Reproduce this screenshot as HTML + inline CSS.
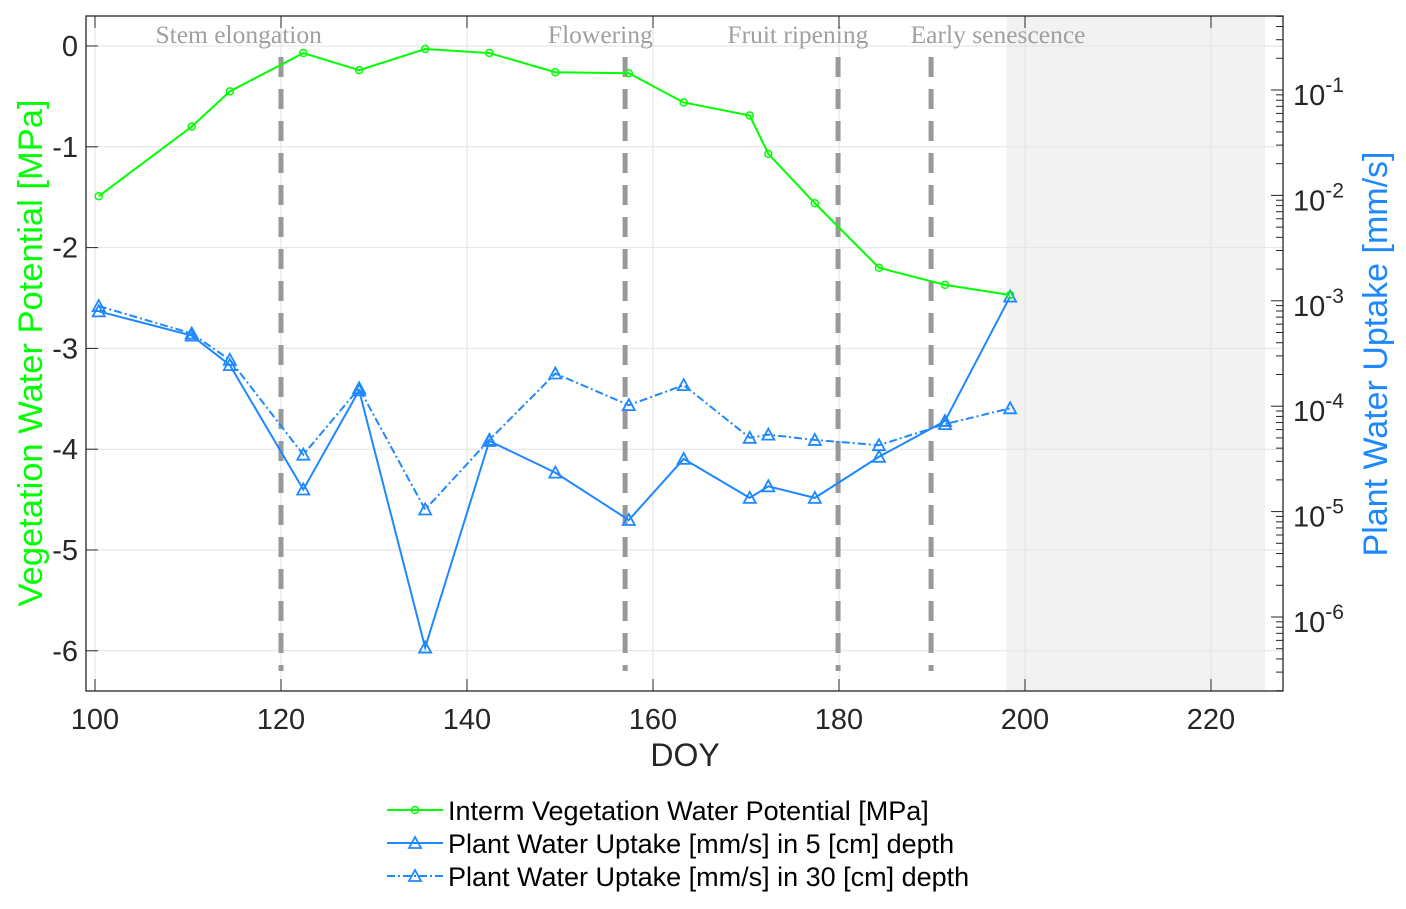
<!DOCTYPE html>
<html><head><meta charset="utf-8"><style>
body{margin:0;background:#fff;}
svg text{font-family:"Liberation Sans",sans-serif;}
</style></head><body>
<svg id="chart" width="1406" height="904" xmlns="http://www.w3.org/2000/svg">
<g id="g"></g>
</svg>
<script>
const doy=[100.4,110.4,114.5,122.4,128.4,135.5,142.4,149.5,157.4,163.3,170.4,172.4,177.4,184.3,191.4,198.4];
const potential=[-1.49,-0.80,-0.45,-0.07,-0.24,-0.03,-0.07,-0.26,-0.27,-0.56,-0.69,-1.07,-1.56,-2.20,-2.37,-2.47];
const uptake5log=[-3.10,-3.33,-3.61,-4.79,-3.85,-6.29,-4.33,-4.63,-5.08,-4.50,-4.87,-4.76,-4.87,-4.48,-4.14,-2.96];
const uptake30log=[-3.05,-3.31,-3.56,-4.46,-3.83,-4.98,-4.32,-3.69,-3.99,-3.80,-4.30,-4.27,-4.32,-4.37,-4.17,-4.02];
const xTicks=[100,120,140,160,180,200,220];
const yTicks=[0,-1,-2,-3,-4,-5,-6];
const rTicks=[-1,-2,-3,-4,-5,-6];
const phaseDoy=[120,157,179.9,189.9];
const phaseLabels=["Stem elongation","Flowering","Fruit ripening","Early senescence"];
const phaseLabelDoy=[106.5,148.7,168.0,187.7];

const L=86,R=1283,T=16,B=691;
const xs=d=>95+(d-100)*9.3;
const ys=v=>46-v*100.8;
const yr=l=>90-(l+1)*105.4;
const NS="http://www.w3.org/2000/svg";
const g=document.getElementById('g');
function el(tag,attrs,parent){const e=document.createElementNS(NS,tag);for(const k in attrs)e.setAttribute(k,attrs[k]);(parent||g).appendChild(e);return e;}

let sh=el('rect',{x:xs(198),y:T,width:xs(225.8)-xs(198),height:B-T,fill:'#f2f2f2'});


xTicks.forEach(t=>{let l=el('line',{x1:xs(t),x2:xs(t),y1:T,y2:B,stroke:'#e3e3e3','stroke-width':1});

});
yTicks.forEach(t=>{let l=el('line',{x1:L,x2:R,y1:ys(t),y2:ys(t),stroke:'#e3e3e3','stroke-width':1});

});
phaseDoy.forEach(d=>{let l=el('line',{x1:xs(d),x2:xs(d),y1:57,y2:671,stroke:'#999','stroke-width':5,'stroke-dasharray':'20 12'});

});
phaseLabels.forEach((s,i)=>{let t=el('text',{x:xs(phaseLabelDoy[i]),y:43,fill:'#a0a0a0','font-size':25.5});
t.style.fontFamily='"Liberation Serif",serif';t.textContent=s;

});
let bx=el('rect',{x:L,y:T,width:R-L,height:B-T,fill:'none',stroke:'#262626','stroke-width':1.3});


xTicks.forEach(t=>{el('line',{x1:xs(t),x2:xs(t),y1:B,y2:B-12,stroke:'#262626'});el('line',{x1:xs(t),x2:xs(t),y1:T,y2:T+12,stroke:'#262626'});
let tx=el('text',{x:xs(t),y:729,'font-size':29,'text-anchor':'middle',fill:'#262626'});tx.textContent=t;

});
yTicks.forEach(t=>{el('line',{x1:L,x2:L+12,y1:ys(t),y2:ys(t),stroke:'#262626'});
let tx=el('text',{x:78,y:ys(t)+10,'font-size':29,'text-anchor':'end',fill:'#262626'});tx.textContent=t;

});
for(let dec=-7;dec<=-1;dec++){for(let m=1;m<10;m++){const l=dec+Math.log10(m);const y=yr(l);if(y<T||y>B)continue;
el('line',{x1:R,x2:R-(m==1?12:7),y1:y,y2:y,stroke:'#262626'});}}
rTicks.forEach(t=>{let tx=el('text',{x:1293,y:yr(t)+15,'font-size':29,fill:'#262626'});
tx.innerHTML='10<tspan dy="-13" font-size="21">'+t+'</tspan>';

});
let xt=el('text',{x:685,y:766,'font-size':32,'text-anchor':'middle',fill:'#262626'});xt.textContent='DOY';


let yt=el('text',{x:0,y:0,'font-size':34.5,'text-anchor':'middle',fill:'#00ff00',transform:'translate(42,353) rotate(-90)'});yt.textContent='Vegetation Water Potential [MPa]';


let rt=el('text',{x:0,y:0,'font-size':34,'text-anchor':'middle',fill:'#1e88ff',transform:'translate(1387,354) rotate(-90)'});rt.textContent='Plant Water Uptake [mm/s]';


function series(vals,yf,color,dash,marker,name){
 let p=el('polyline',{points:vals.map((v,i)=>xs(doy[i])+','+yf(v)).join(' '),fill:'none',stroke:color,'stroke-width':2,'stroke-dasharray':dash||''});
 
 
 vals.forEach((v,i)=>{const x=xs(doy[i]),y=yf(v);let m;
  if(marker=='o')m=el('circle',{cx:x,cy:y,r:3.5,fill:'none',stroke:color,'stroke-width':1.5});
  else m=el('polygon',{points:`${x},${y-6} ${x-6},${y+5} ${x+6},${y+5}`,fill:'none',stroke:color,'stroke-width':1.8});
  
  });
}
series(uptake30log,yr,'#1e88ff','8 3 2 3','t','uptake-30cm');
series(uptake5log,yr,'#1e88ff','','t','uptake-5cm');
series(potential,ys,'#00ff00','','o','water-potential');
const legLabels=['Interm Vegetation Water Potential [MPa]','Plant Water Uptake [mm/s] in 5 [cm] depth','Plant Water Uptake [mm/s] in 30 [cm] depth'];
const legColors=['#00ff00','#1e88ff','#1e88ff'];
const legDash=['','','8 3 2 3'];
legLabels.forEach((s,i)=>{const y=810+i*33;
 let lg=el('g',{});
 
 
 el('line',{x1:387,x2:443,y1:y,y2:y,stroke:legColors[i],'stroke-width':2,'stroke-dasharray':legDash[i]},lg);
 if(i==0)el('circle',{cx:415,cy:y,r:3.5,fill:'none',stroke:legColors[i],'stroke-width':1.5},lg);
 else el('polygon',{points:`415,${y-6} 409,${y+5} 421,${y+5}`,fill:'none',stroke:legColors[i],'stroke-width':1.8},lg);
 let t=el('text',{x:448,y:y+10,'font-size':27,fill:'#000'},lg);t.textContent=s;});
</script>
</body></html>
